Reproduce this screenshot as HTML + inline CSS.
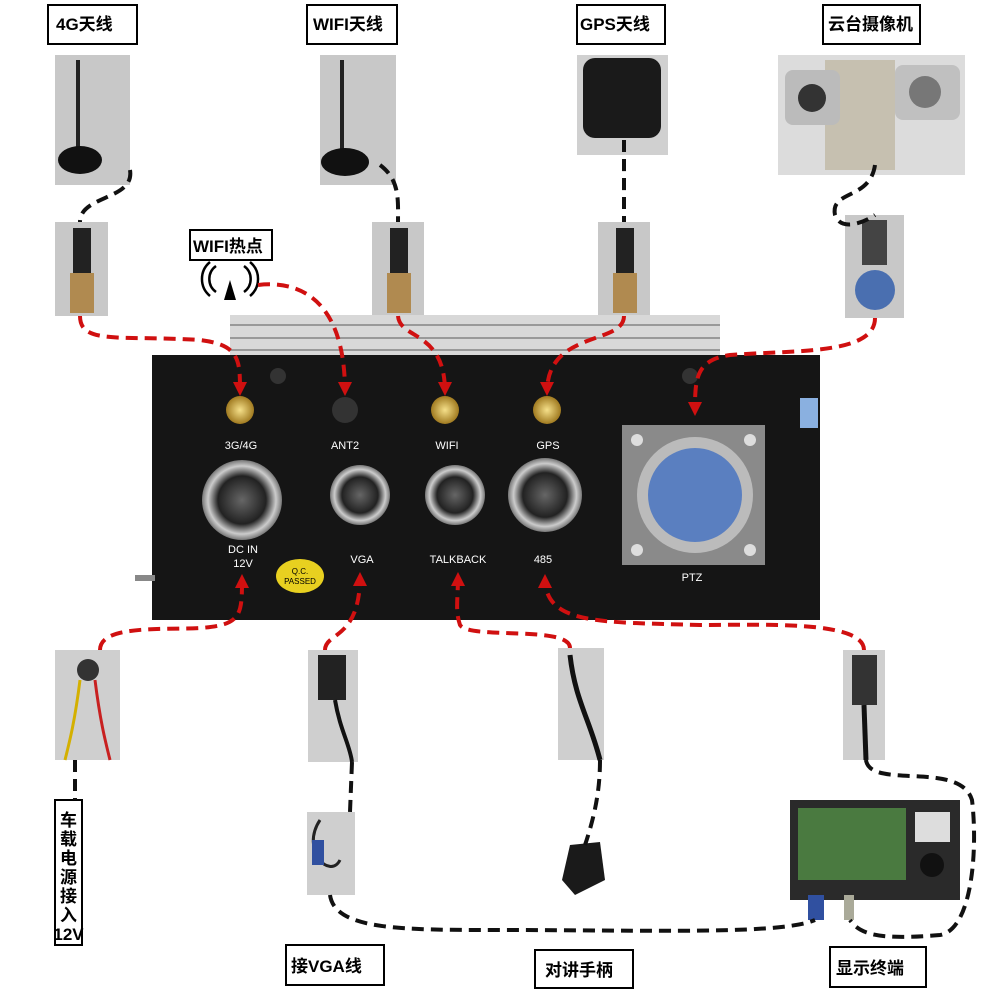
<!DOCTYPE html>
<html><head><meta charset="utf-8"><style>
body{margin:0;background:#fff}
svg{display:block}
.lb{font-family:"Liberation Sans","Noto Sans CJK SC",sans-serif;font-weight:bold;font-size:17px;fill:#000}
.w{font-family:"Liberation Sans",sans-serif;font-size:11px;fill:#fff;text-anchor:middle}
</style></head><body>
<svg width="1000" height="1000" viewBox="0 0 1000 1000" xmlns="http://www.w3.org/2000/svg">
<defs>
<marker id="ar" markerWidth="14" markerHeight="14" refX="10" refY="7" orient="auto" markerUnits="userSpaceOnUse" viewBox="0 0 14 14"><path d="M0,0 L14,7 L0,14z" fill="#d01010"/></marker>
<radialGradient id="gold"><stop offset="0" stop-color="#f5e08a"/><stop offset="1" stop-color="#a07a20"/></radialGradient>
<radialGradient id="met"><stop offset="0" stop-color="#666"/><stop offset=".6" stop-color="#222"/><stop offset=".85" stop-color="#ccc"/><stop offset="1" stop-color="#777"/></radialGradient>
</defs>
<g fill="#fff" stroke="#000" stroke-width="2">
<rect x="48" y="5" width="89" height="39"/><rect x="307" y="5" width="90" height="39"/>
<rect x="577" y="5" width="88" height="39"/><rect x="823" y="5" width="97" height="39"/>
<rect x="190" y="230" width="82" height="30"/>
<rect x="286" y="945" width="98" height="40"/><rect x="535" y="950" width="98" height="38"/>
<rect x="830" y="947" width="96" height="40"/><rect x="55" y="800" width="27" height="145"/>
</g>
<text class="lb" x="56" y="30">4G天线</text><text class="lb" x="313" y="30">WIFI天线</text>
<text class="lb" x="580" y="30">GPS天线</text><text class="lb" x="828" y="30" font-size="16">云台摄像机</text>
<text class="lb" x="193" y="252" font-size="16">WIFI热点</text>
<text class="lb" x="291" y="972">接VGA线</text><text class="lb" x="545" y="976">对讲手柄</text><text class="lb" x="836" y="974">显示终端</text>
<g class="lb" font-size="16"><text x="60" y="826">车</text><text x="60" y="845">载</text><text x="60" y="864">电</text><text x="60" y="883">源</text><text x="60" y="902">接</text><text x="60" y="921">入</text></g>
<text class="lb" x="68.5" y="940" font-size="13" text-anchor="middle">12V</text>
<g fill="none" stroke="#000" stroke-width="2.5">
<path d="M216,266 a16,16 0 0,0 0,26"/><path d="M244,266 a16,16 0 0,1 0,26"/><path d="M210,262 a22,22 0 0,0 0,34"/><path d="M250,262 a22,22 0 0,1 0,34"/></g>
<path d="M230,280 L224,300 L236,300z" fill="#000"/>
<rect x="55" y="55" width="75" height="130" fill="#c8c8c8"/><rect x="76" y="60" width="4" height="90" fill="#222"/><ellipse cx="80" cy="160" rx="22" ry="14" fill="#111"/>
<rect x="320" y="55" width="76" height="130" fill="#c8c8c8"/><rect x="340" y="60" width="4" height="90" fill="#222"/><ellipse cx="345" cy="162" rx="24" ry="14" fill="#111"/>
<rect x="577" y="55" width="91" height="100" fill="#d0d0d0"/><rect x="583" y="58" width="78" height="80" rx="12" fill="#1a1a1a"/>
<rect x="778" y="55" width="187" height="120" fill="#dcdcdc"/><rect x="825" y="60" width="70" height="110" fill="#c6c0b0"/><rect x="785" y="70" width="55" height="55" rx="8" fill="#bbb"/><circle cx="812" cy="98" r="14" fill="#333"/><rect x="895" y="65" width="65" height="55" rx="8" fill="#c0c0c0"/><circle cx="925" cy="92" r="16" fill="#777"/>
<g fill="#c8c8c8"><rect x="55" y="222" width="53" height="94"/><rect x="372" y="222" width="52" height="94"/><rect x="598" y="222" width="52" height="94"/><rect x="845" y="215" width="59" height="103"/></g>
<g fill="#222"><rect x="73" y="228" width="18" height="45"/><rect x="390" y="228" width="18" height="45"/><rect x="616" y="228" width="18" height="45"/></g>
<g fill="#b08a50"><rect x="70" y="273" width="24" height="40"/><rect x="387" y="273" width="24" height="40"/><rect x="613" y="273" width="24" height="40"/></g>
<rect x="862" y="220" width="25" height="45" fill="#444"/><circle cx="875" cy="290" r="20" fill="#4a6fb0"/>
<rect x="230" y="315" width="490" height="42" fill="#d8d8d8"/>
<g stroke="#999" stroke-width="2"><line x1="230" y1="325" x2="720" y2="325"/><line x1="230" y1="338" x2="720" y2="338"/><line x1="230" y1="350" x2="720" y2="350"/></g>
<rect x="152" y="355" width="668" height="265" fill="#151515"/>
<rect x="135" y="575" width="20" height="6" fill="#888"/>
<circle cx="240" cy="410" r="14" fill="url(#gold)"/><circle cx="345" cy="410" r="13" fill="#333"/>
<circle cx="445" cy="410" r="14" fill="url(#gold)"/><circle cx="547" cy="410" r="14" fill="url(#gold)"/>
<circle cx="278" cy="376" r="8" fill="#333"/><circle cx="690" cy="376" r="8" fill="#333"/>
<circle cx="242" cy="500" r="40" fill="url(#met)"/><circle cx="360" cy="495" r="30" fill="url(#met)"/>
<circle cx="455" cy="495" r="30" fill="url(#met)"/><circle cx="545" cy="495" r="37" fill="url(#met)"/>
<rect x="622" y="425" width="143" height="140" fill="#8a8a8a"/><circle cx="695" cy="495" r="58" fill="#bbb"/><circle cx="695" cy="495" r="47" fill="#5a7fc0"/>
<g fill="#ddd"><circle cx="637" cy="440" r="6"/><circle cx="750" cy="440" r="6"/><circle cx="637" cy="550" r="6"/><circle cx="750" cy="550" r="6"/></g>
<rect x="800" y="398" width="18" height="30" fill="#8ab0e0"/>
<text class="w" x="241" y="449">3G/4G</text><text class="w" x="345" y="449">ANT2</text><text class="w" x="447" y="449">WIFI</text><text class="w" x="548" y="449">GPS</text>
<text class="w" x="243" y="553">DC IN</text><text class="w" x="243" y="567">12V</text><text class="w" x="362" y="563">VGA</text><text class="w" x="458" y="563">TALKBACK</text><text class="w" x="543" y="563">485</text><text class="w" x="692" y="581">PTZ</text>
<ellipse cx="300" cy="576" rx="24" ry="17" fill="#e8d020"/><text x="300" y="574" font-size="8" text-anchor="middle" font-family="Liberation Sans">Q.C.</text><text x="300" y="584" font-size="8" text-anchor="middle" font-family="Liberation Sans">PASSED</text>
<g fill="#cfcfcf"><rect x="55" y="650" width="65" height="110"/><rect x="308" y="650" width="50" height="112"/><rect x="558" y="648" width="46" height="112"/><rect x="843" y="650" width="42" height="110"/><rect x="307" y="812" width="48" height="83"/></g>
<circle cx="88" cy="670" r="11" fill="#333"/><path d="M80,680 C75,720 70,740 65,760" stroke="#d4b000" stroke-width="3" fill="none"/><path d="M95,680 C100,720 105,740 110,760" stroke="#c82020" stroke-width="3" fill="none"/>
<rect x="318" y="655" width="28" height="45" fill="#222"/><path d="M335,700 C340,730 350,745 352,762" stroke="#111" stroke-width="4" fill="none"/>
<path d="M570,655 C575,700 590,720 600,760" stroke="#111" stroke-width="5" fill="none"/>
<rect x="852" y="655" width="25" height="50" fill="#333"/><path d="M864,705 L866,760" stroke="#111" stroke-width="5"/>
<path d="M320,820 C300,850 330,880 340,860" stroke="#222" stroke-width="3" fill="none"/><rect x="312" y="840" width="12" height="25" fill="#3050a0"/>
<path d="M570,845 L600,842 L605,880 L575,895 L562,880z" fill="#1a1a1a"/>
<rect x="790" y="800" width="170" height="100" fill="#2a2a2a"/><rect x="798" y="808" width="108" height="72" fill="#4a7a40"/><rect x="915" y="812" width="35" height="30" fill="#ddd"/><circle cx="932" cy="865" r="12" fill="#111"/>
<rect x="808" y="895" width="16" height="25" fill="#3050a0"/><rect x="844" y="895" width="10" height="25" fill="#aa9"/>
<g fill="none" stroke="#d01010" stroke-width="4" stroke-dasharray="12,7" marker-end="url(#ar)">
<path d="M80,316 C80,345 120,335 200,340 C240,345 240,360 240,392"/>
<path d="M258,285 C300,280 345,300 345,392"/>
<path d="M398,316 C400,340 445,330 445,392"/>
<path d="M624,316 C624,345 547,330 547,392"/>
<path d="M875,318 C875,355 795,350 730,355 C695,360 695,380 695,412"/>
<path d="M100,650 C100,625 160,630 200,628 C242,625 242,615 242,578"/>
<path d="M325,650 C325,632 360,640 360,576"/>
<path d="M570,648 C570,625 470,640 460,625 C455,610 458,600 458,576"/>
<path d="M864,650 C864,620 760,625 700,625 C600,622 545,625 545,578"/>
</g>
<g fill="none" stroke="#111" stroke-width="4" stroke-dasharray="12,7">
<path d="M130,170 C135,200 80,195 80,222"/>
<path d="M380,165 C400,180 398,200 398,222"/>
<path d="M624,140 C624,180 624,200 624,222"/>
<path d="M875,165 C870,200 830,190 835,215 C840,230 860,225 875,215"/>
<path d="M75,760 L75,800"/>
<path d="M352,762 L350,812"/>
<path d="M600,760 C600,790 595,815 585,845"/>
<path d="M866,760 C870,790 960,760 972,800 C978,850 972,930 940,935 C880,940 860,935 850,920"/>
<path d="M330,895 C335,930 400,930 500,930 C650,930 780,935 815,920"/>
</g>
</svg>
</body></html>
